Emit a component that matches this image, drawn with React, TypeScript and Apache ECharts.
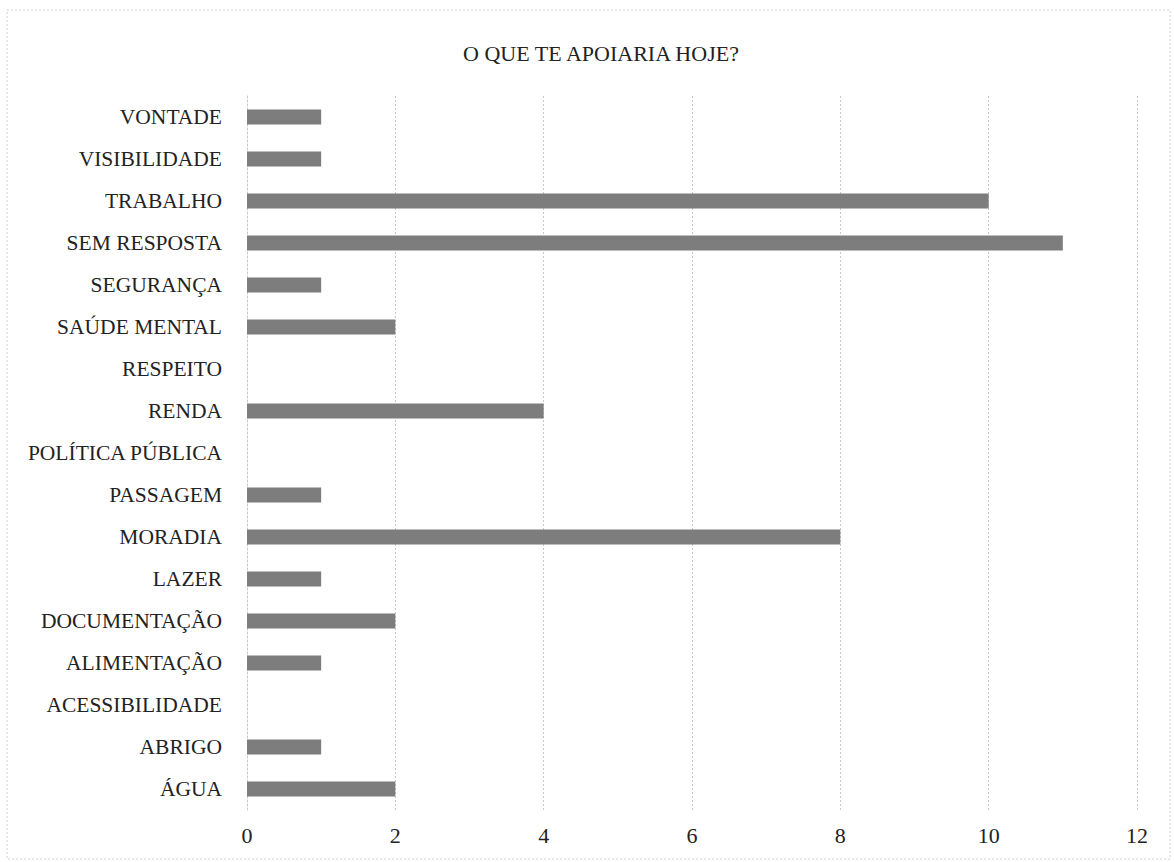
import React, { useEffect, useRef } from "react";
import * as echarts from "echarts";

const title = "O QUE TE APOIARIA HOJE?";
const categories = [
  "ÁGUA",
  "ABRIGO",
  "ACESSIBILIDADE",
  "ALIMENTAÇÃO",
  "DOCUMENTAÇÃO",
  "LAZER",
  "MORADIA",
  "PASSAGEM",
  "POLÍTICA PÚBLICA",
  "RENDA",
  "RESPEITO",
  "SAÚDE MENTAL",
  "SEGURANÇA",
  "SEM RESPOSTA",
  "TRABALHO",
  "VISIBILIDADE",
  "VONTADE",
];
const values = [2, 1, 0, 1, 2, 1, 8, 1, 0, 4, 0, 2, 1, 11, 10, 1, 1];
const xMin = 0;
const xMax = 12;
const xInterval = 2;

const FONT = "'Liberation Serif', 'DejaVu Serif', serif";

export default function App() {
  const ref = useRef<HTMLDivElement>(null);
  useEffect(() => {
    if (!ref.current) return;
    const chart = echarts.init(ref.current, null, { renderer: "svg" });
    chart.setOption({
      animation: false,
      backgroundColor: "#ffffff",
      title: {
        text: title,
        left: 596,
        textAlign: "center",
        top: 37,
        textStyle: { fontFamily: FONT, fontSize: 22, fontWeight: "normal", color: "#222" },
      },
      graphic: [
        {
          type: "rect",
          shape: { x: 7, y: 10, width: 1163, height: 849 },
          style: { fill: "none", stroke: "#cfcfcf", lineWidth: 1, lineDash: [2, 2] },
          silent: true,
        },
      ],
      grid: { left: 247, right: 37, top: 96, bottom: 52, containLabel: false },
      xAxis: {
        type: "value",
        min: xMin,
        max: xMax,
        interval: xInterval,
        axisLine: { show: false },
        axisTick: { show: false },
        axisLabel: { fontFamily: FONT, fontSize: 22, color: "#222", margin: 14 },
        splitLine: { show: true, lineStyle: { color: "#c8c8c8", type: [2, 2], width: 1 } },
      },
      yAxis: {
        type: "category",
        data: categories,
        axisLine: { show: true, lineStyle: { color: "#c8c8c8", type: [2, 2] } },
        axisTick: { show: false },
        axisLabel: { fontFamily: FONT, fontSize: 21.5, color: "#222", margin: 25 },
      },
      series: [
        {
          type: "bar",
          data: values,
          barWidth: 15,
          itemStyle: { color: "#7d7d7d" },
        },
      ],
    });
    return () => chart.dispose();
  }, []);
  return (
    <div
      ref={ref}
      style={{ position: "absolute", left: 0, top: 0, width: 1174, height: 862 }}
    />
  );
}
